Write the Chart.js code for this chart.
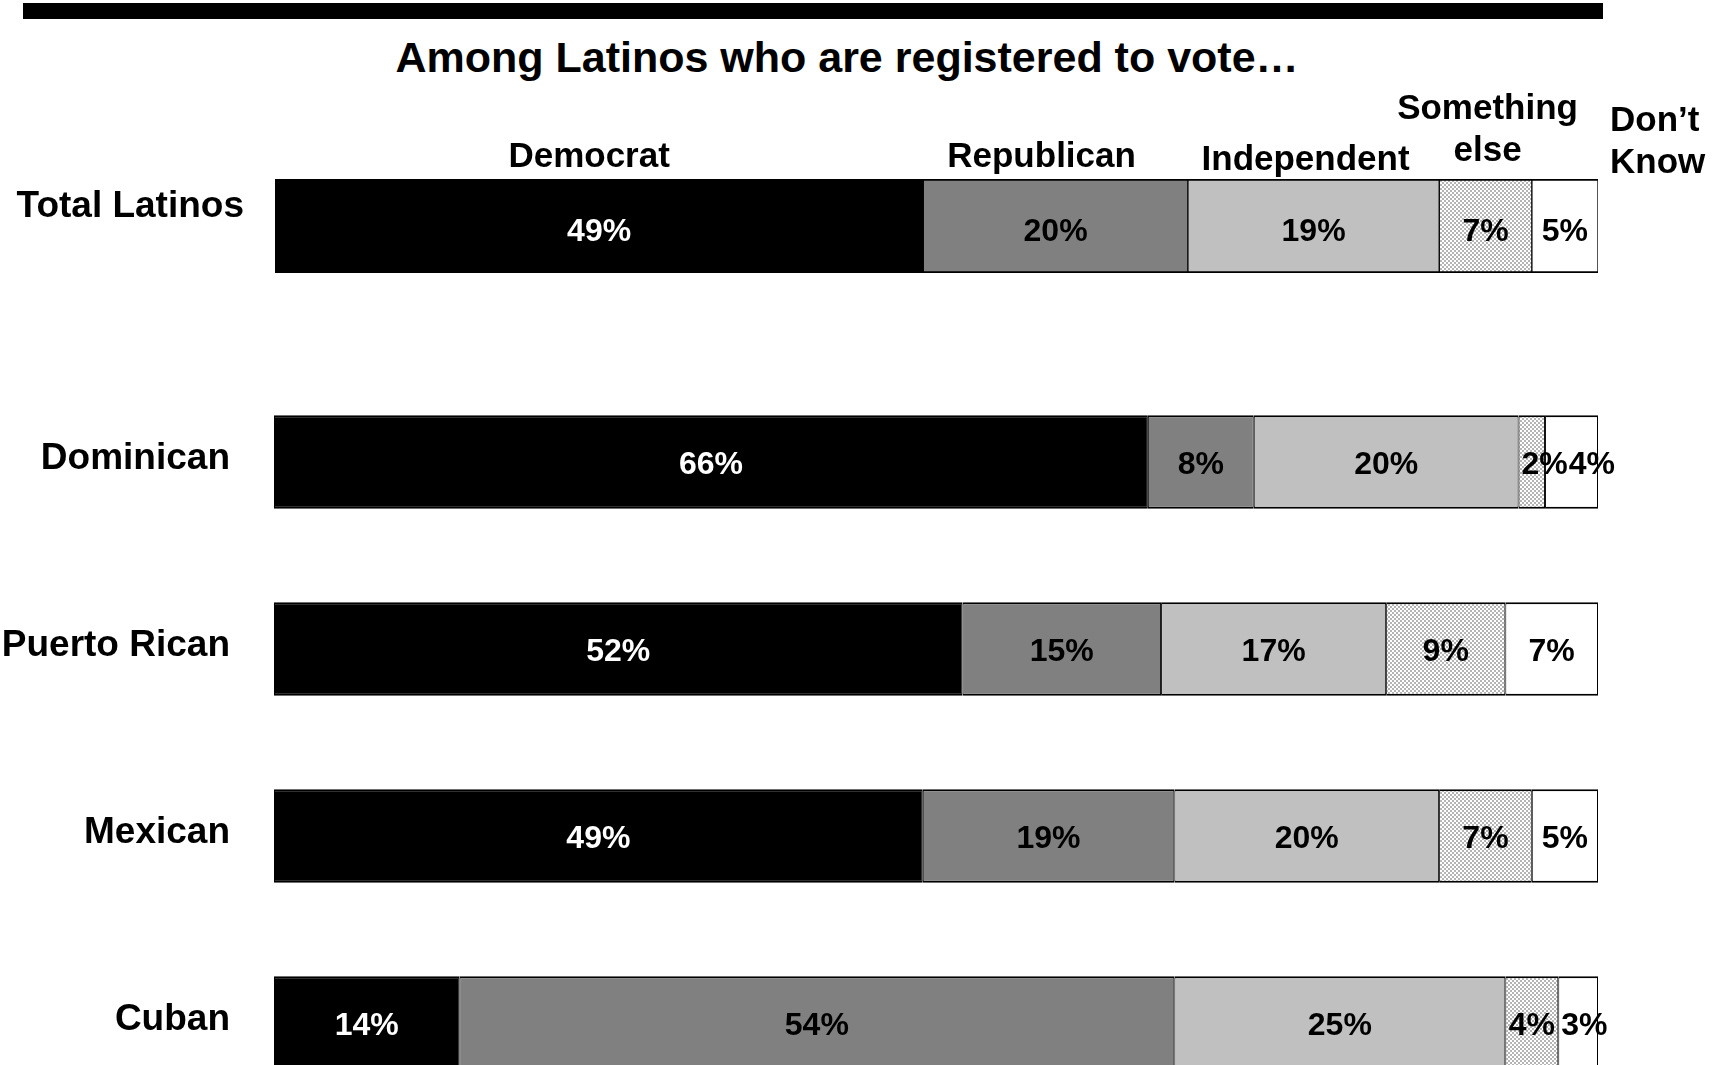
<!DOCTYPE html>
<html>
<head>
<meta charset="utf-8">
<script src="https://cdn.jsdelivr.net/npm/chart.js@4/dist/chart.umd.min.js"></script>
<style>
  html, body { margin: 0; padding: 0; background: #fff; overflow: hidden; width: 1724px; height: 1065px; }
  #rule { position: absolute; left: 23px; top: 3px; width: 1580px; height: 16px; background: #000; }
  #title { position: absolute; left: 0; top: 31px; width: 1694px; text-align: center;
           font: bold 43px "Liberation Sans", Arial, sans-serif; line-height: 52px; color: #000; }
  #wrapA { position: absolute; left: 0; top: 0; width: 1724px; height: 300px; }
  #wrapB { position: absolute; left: 0; top: 300px; width: 1724px; height: 830px; }
</style>
</head>
<body>
<div id="rule"></div>
<div id="title">Among Latinos who are registered to vote…</div>
<div id="wrapA"><canvas id="chartA" width="1724" height="300"></canvas></div>
<div id="wrapB"><canvas id="chartB" width="1724" height="830"></canvas></div>
<script>
// Party identification among registered Latino voters (percent)
const partyHeaders = [['Democrat'], ['Republican'], ['Independent'], ['Something', 'else'], ['Don’t', 'Know']];

const totalRow = ['Total Latinos'];
const totalDemocrat = [49];
const totalRepublican = [20];
const totalIndependent = [19];
const totalSomethingElse = [7];
const totalDontKnow = [5];

const origins = ['Dominican', 'Puerto Rican', 'Mexican', 'Cuban'];
const democrat = [66, 52, 49, 14];
const republican = [8, 15, 19, 54];
const independent = [20, 17, 20, 25];
const somethingElse = [2, 9, 7, 4];
const dontKnow = [4, 7, 5, 3];

const FONT = '"Liberation Sans", Arial, sans-serif';
Chart.defaults.font.family = FONT;
Chart.defaults.color = '#000';

// fine checkered fill for "Something else"
function makeDots() {
  const c = document.createElement('canvas');
  c.width = 4; c.height = 4;
  const g = c.getContext('2d');
  g.fillStyle = '#ffffff'; g.fillRect(0, 0, 4, 4);
  g.fillStyle = '#b4b4b4'; g.fillRect(0, 0, 2, 2); g.fillRect(2, 2, 2, 2);
  return g.createPattern(c, 'repeat');
}
const dots = makeDots();

const fills = ['#000000', '#808080', '#c0c0c0', dots, '#ffffff'];
const labelColors = ['#ffffff', '#000000', '#000000', '#000000', '#000000'];

function buildDatasets(series, barPct) {
  return series.map((vals, i) => ({
    label: partyHeaders[i].join(' '),
    data: vals,
    backgroundColor: fills[i],
    borderColor: '#000',
    borderWidth: { top: 2, bottom: 2, left: 1, right: 1 },
    borderSkipped: false,
    categoryPercentage: 1,
    barPercentage: barPct
  }));
}

// percentage labels inside each segment, nudged right when they don't fit
function valueLabels(dy) {
  return {
    id: 'valueLabels',
    afterDatasetsDraw(chart) {
      const ctx = chart.ctx;
      ctx.save();
      ctx.font = 'bold 32px ' + FONT;
      ctx.textBaseline = 'middle';
      ctx.textAlign = 'center';
      const n = chart.data.labels.length;
      for (let i = 0; i < n; i++) {
        let prevRight = -Infinity;
        chart.data.datasets.forEach((ds, d) => {
          const el = chart.getDatasetMeta(d).data[i];
          const left = Math.min(el.base, el.x), right = Math.max(el.base, el.x);
          const text = ds.data[i] + '%';
          const w = ctx.measureText(text).width;
          let cx = (left + right) / 2;
          if (w > right - left - 4) cx = left + 3 + w / 2;
          if (cx - w / 2 < prevRight + 1) cx = prevRight + 1 + w / 2;
          prevRight = cx + w / 2;
          ctx.fillStyle = labelColors[d];
          ctx.fillText(text, cx, el.y + dy);
        });
      }
      ctx.restore();
    }
  };
}

// party names above the total bar
const partyNames = {
  id: 'partyNames',
  afterDatasetsDraw(chart) {
    const ctx = chart.ctx;
    const rise = [22, 22, 19, 28, 16];
    const nudge = [-10, -14, -8, 2, 0];
    const lineGap = 42;
    ctx.save();
    ctx.font = 'bold 35px ' + FONT;
    ctx.textBaseline = 'middle';
    ctx.fillStyle = '#000';
    const last = chart.data.datasets.length - 1;
    chart.data.datasets.forEach((ds, d) => {
      const el = chart.getDatasetMeta(d).data[0];
      const top = el.y - el.height / 2;
      const left = Math.min(el.base, el.x), right = Math.max(el.base, el.x);
      const lines = partyHeaders[d];
      let x;
      if (d === last) { ctx.textAlign = 'left'; x = chart.chartArea.right + 12; }
      else { ctx.textAlign = 'center'; x = (left + right) / 2 + nudge[d]; }
      lines.forEach((ln, k) => {
        const y = top - rise[d] - (lines.length - 1 - k) * lineGap;
        ctx.fillText(ln, x, y);
      });
    });
    ctx.restore();
  }
};

function makeChart(id, labels, series, opts) {
  return new Chart(document.getElementById(id), {
    type: 'bar',
    data: { labels: labels, datasets: buildDatasets(series, opts.barPct) },
    options: {
      indexAxis: 'y',
      responsive: false,
      animation: false,
      layout: { padding: { top: opts.padTop, bottom: opts.padBottom, left: 0, right: 126 } },
      plugins: { legend: { display: false }, tooltip: { enabled: false }, title: { display: false } },
      scales: {
        x: { stacked: true, min: 0, max: 100, display: false },
        y: {
          stacked: true,
          grid: { display: false, drawTicks: false },
          border: { display: false },
          ticks: {
            color: '#000',
            font: { size: opts.tickSize, weight: 'bold' },
            padding: opts.tickPad,
            labelOffset: opts.labelOffset
          },
          afterFit(scale) {
            scale.width = opts.axisWidth;
            scale.paddingTop = 0;
            scale.paddingBottom = 0;
          }
        }
      }
    },
    plugins: opts.plugins
  });
}

makeChart('chartA', totalRow,
  [totalDemocrat, totalRepublican, totalIndependent, totalSomethingElse, totalDontKnow],
  { padTop: 179, padBottom: 27, barPct: 1, tickSize: 37, tickPad: 31, labelOffset: -19,
    axisWidth: 275, plugins: [valueLabels(6), partyNames] });

makeChart('chartB', origins,
  [democrat, republican, independent, somethingElse, dontKnow],
  { padTop: 68.5, padBottom: 13.5, barPct: 0.5, tickSize: 37, tickPad: 44, labelOffset: -3,
    axisWidth: 274, plugins: [valueLabels(3)] });
</script>
</body>
</html>
